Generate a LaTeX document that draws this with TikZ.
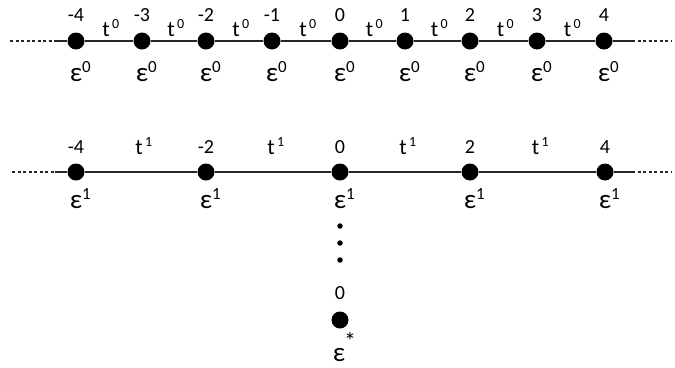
\documentclass[tikz,border=0pt]{standalone}
\usepackage{fontspec}
\setmainfont{Carlito}
\begin{document}
\begin{tikzpicture}[x=1pt,y=-1pt,
  dot/.style={circle,fill=black,inner sep=0pt,minimum size=17pt},
  smalldot/.style={circle,fill=black,inner sep=0pt,minimum size=5.5pt},
  num/.style={font=\fontsize{20}{20}\selectfont,inner sep=0pt},
  tlab/.style={font=\fontsize{22}{22}\selectfont,inner sep=0pt},
  elab/.style={font=\fontsize{27}{27}\selectfont,inner sep=0pt},
  link/.style={line width=1.3pt,draw=black!85},
  dashlink/.style={line width=1.1pt,draw=black!85,dash pattern=on 3pt off 2.5pt}]
\useasboundingbox (0,0) rectangle (675,367);
\newcommand{\myeps}[1]{ε\rlap{\raisebox{0.33em}{\fontsize{17}{17}\selectfont #1}}}
\newcommand{\myt}[1]{t\rlap{\raisebox{0.4em}{\fontsize{14}{14}\selectfont\,#1}}}
% top row
\foreach \i/\x/\l in {0/76/-4,1/142/-3,2/206/-2,3/272/-1,4/340/0,5/405/1,6/470/2,7/537/3,8/604/4}{
  \node[dot] (a\i) at (\x,41) {};
  \node[num] at (\x,15) {\l};
  \node[elab] at (\x,72) {\myeps{0}};
}
\foreach \i/\j in {0/1,1/2,2/3,3/4,4/5,5/6,6/7,7/8}{
  \path (a\i) -- (a\j) coordinate[midway] (ma\i);
  \draw[link] (a\i) -- (a\j);
  \node[tlab] at ([xshift=-3pt,yshift=13pt]ma\i) {\myt{0}};
}
\coordinate (al) at (10,41);
\coordinate (alm) at (55,41);
\coordinate (ar) at (672,41);
\coordinate (arm) at (632,41);
\draw[dashlink] (al) -- (alm);
\draw[link] (alm) -- (a0);
\draw[link] (a8) -- (arm);
\draw[dashlink] (arm) -- (ar);
% second row
\foreach \i/\x/\l in {0/76/-4,1/206/-2,2/340/0,3/470/2,4/605/4}{
  \node[dot] (b\i) at (\x,172) {};
  \node[num] at (\x,147) {\l};
  \node[elab] at (\x,199) {\myeps{1}};
}
\foreach \i/\j in {0/1,1/2,2/3,3/4}{
  \path (b\i) -- (b\j) coordinate[midway] (mb\i);
  \draw[link] (b\i) -- (b\j);
  \node[tlab] at ([xshift=-2pt,yshift=26pt]mb\i) {\myt{1}};
}
\coordinate (bl) at (12,172);
\coordinate (blm) at (55,172);
\coordinate (br) at (672,172);
\coordinate (brm) at (632,172);
\draw[dashlink] (bl) -- (blm);
\draw[link] (blm) -- (b0);
\draw[link] (b4) -- (brm);
\draw[dashlink] (brm) -- (br);
% vertical dots
\node[smalldot] (v1) at (340,226) {};
\node[smalldot] (v2) at (340,243) {};
\node[smalldot] (v3) at (340,260) {};
\node[num] (z) at (340,293) {0};
\node[dot] (s) at (340,320) {};
\node[font=\fontsize{24}{24}\selectfont,inner sep=0pt] (st) at (350,341) {*};
\node[elab] (se) at (339,355) {ε};
\end{tikzpicture}
\end{document}
